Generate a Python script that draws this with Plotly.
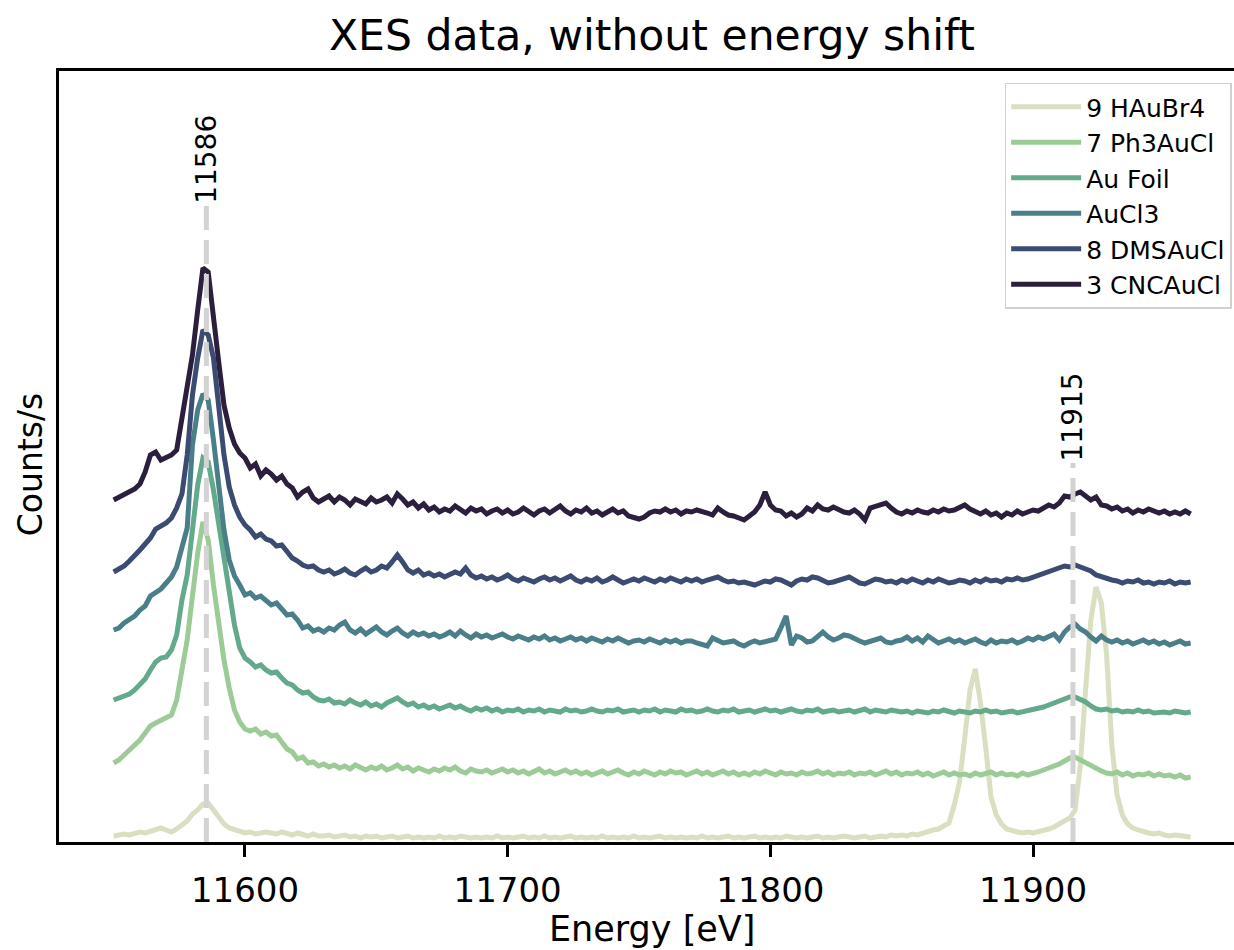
import plotly.graph_objects as go

energy = [
    11550, 11552, 11554, 11556, 11558, 11560, 11562, 11564, 11566, 11568,
    11570, 11572, 11574, 11576, 11578, 11580, 11582, 11584, 11586, 11588,
    11590, 11592, 11594, 11596, 11598, 11600, 11602, 11604, 11606, 11608,
    11610, 11612, 11614, 11616, 11618, 11620, 11622, 11624, 11626, 11628,
    11630, 11632, 11634, 11636, 11638, 11640, 11642, 11644, 11646, 11648,
    11650, 11652, 11654, 11656, 11658, 11660, 11662, 11664, 11666, 11668,
    11670, 11672, 11674, 11676, 11678, 11680, 11682, 11684, 11686, 11688,
    11690, 11692, 11694, 11696, 11698, 11700, 11702, 11704, 11706, 11708,
    11710, 11712, 11714, 11716, 11718, 11720, 11722, 11724, 11726, 11728,
    11730, 11732, 11734, 11736, 11738, 11740, 11742, 11744, 11746, 11748,
    11750, 11752, 11754, 11756, 11758, 11760, 11762, 11764, 11766, 11768,
    11770, 11772, 11774, 11776, 11778, 11780, 11782, 11784, 11786, 11788,
    11790, 11792, 11794, 11796, 11798, 11800, 11802, 11804, 11806, 11808,
    11810, 11812, 11814, 11816, 11818, 11820, 11822, 11824, 11826, 11828,
    11830, 11832, 11834, 11836, 11838, 11840, 11842, 11844, 11846, 11848,
    11850, 11852, 11854, 11856, 11858, 11860, 11862, 11864, 11866, 11868,
    11870, 11872, 11874, 11876, 11878, 11880, 11882, 11884, 11886, 11888,
    11890, 11892, 11894, 11896, 11898, 11900, 11902, 11904, 11906, 11908,
    11910, 11912, 11914, 11916, 11918, 11920, 11922, 11924, 11926, 11928,
    11930, 11932, 11934, 11936, 11938, 11940, 11942, 11944, 11946, 11948,
    11950, 11952, 11954, 11956, 11958, 11960,
]

hauBr4_9 = [
    6, 7, 8, 7, 9, 10, 9, 11, 13, 14,
    12, 10, 13, 17, 21, 28, 32, 38, 39, 32,
    24, 18, 14, 12, 10, 9, 10, 8, 9, 10,
    9, 8, 10, 8, 7, 9, 7, 6, 8, 6,
    6, 7, 5, 6, 7, 5, 6, 4, 6, 5,
    6, 4, 5, 6, 4, 5, 6, 4, 5, 4,
    5, 4, 6, 4, 5, 4, 6, 5, 4, 5,
    4, 5, 4, 6, 4, 5, 4, 5, 6, 4,
    5, 4, 6, 4, 5, 4, 5, 6, 4, 5,
    4, 5, 4, 6, 4, 5, 4, 5, 4, 6,
    4, 5, 4, 5, 6, 4, 5, 4, 5, 4,
    5, 4, 6, 4, 5, 4, 5, 6, 4, 5,
    4, 5, 6, 4, 5, 4, 5, 4, 6, 5,
    4, 5, 4, 5, 6, 4, 5, 4, 5, 6,
    5, 4, 5, 6, 4, 5, 6, 5, 7, 6,
    7, 6, 8, 7, 9, 10, 12, 13, 16, 19,
    37, 60, 104, 152, 173, 139, 94, 45, 27, 18,
    13, 11, 10, 9, 10, 9, 10, 11, 13, 15,
    18, 21, 24, 32, 77, 152, 222, 255, 239, 187,
    97, 47, 27, 18, 14, 12, 10, 9, 8, 9,
    7, 6, 7, 6, 5, 5,
]

ph3AuCl_7 = [
    79, 82, 87, 92, 96, 102, 109, 116, 119, 122,
    124, 127, 142, 170, 202, 246, 289, 320, 302, 257,
    215, 182, 154, 132, 120, 113, 111, 113, 108, 110,
    106, 107, 100, 93, 90, 83, 85, 79, 80, 76,
    78, 75, 77, 74, 76, 73, 77, 74, 72, 75,
    73, 76, 72, 74, 77, 73, 75, 71, 74, 72,
    70, 73, 71, 74, 72, 75, 71, 69, 73, 71,
    70, 72, 69, 71, 73, 70, 72, 69, 71, 68,
    70, 73, 69, 71, 68, 70, 72, 69, 71, 68,
    70, 67, 69, 71, 68, 70, 72, 69, 67, 70,
    68, 71, 69, 67, 70, 68, 71, 69, 70, 67,
    69, 71, 68, 70, 67, 69, 71, 68, 70, 67,
    69, 67, 70, 68, 71, 69, 67, 70, 68, 69,
    67, 70, 68, 69, 71, 68, 70, 67, 69, 68,
    70, 67, 69, 68, 70, 67, 69, 71, 68, 70,
    67, 69, 68, 70, 67, 69, 66, 68, 70, 67,
    69, 67, 68, 66, 69, 67, 68, 70, 67, 69,
    67, 68, 66, 69, 67, 68, 70, 72, 74, 75,
    78, 81, 84, 85, 82, 79, 77, 74, 71, 69,
    68, 70, 67, 69, 66, 68, 67, 69, 66, 68,
    66, 67, 65, 67, 64, 65,
]

au_foil = [
    142, 144, 146, 148, 152, 158, 163, 172, 180, 184,
    185, 192, 207, 242, 267, 312, 357, 384, 380, 352,
    317, 287, 247, 217, 194, 184, 180, 175, 177, 172,
    169, 170, 164, 159, 157, 152, 149, 150, 145, 142,
    141, 143, 139, 140, 138, 142, 139, 137, 140, 136,
    138, 135, 139, 142, 144, 140, 137, 139, 135, 137,
    134, 136, 133, 135, 137, 134, 136, 133, 131, 134,
    132, 134, 131, 133, 130, 132, 131, 133, 130, 132,
    131, 133, 130, 132, 131, 130, 133, 131, 132, 130,
    131, 133, 131, 130, 132, 131, 133, 130, 131, 132,
    130, 132, 131, 133, 130, 132, 131, 130, 133, 131,
    132, 130, 131, 133, 131, 130, 132, 131, 133, 130,
    131, 132, 130, 131, 133, 131, 132, 130, 131, 133,
    131, 130, 132, 131, 133, 130, 131, 132, 130, 131,
    132, 130, 131, 133, 130, 132, 131, 130, 132, 131,
    130, 131, 129, 131, 130, 129, 131, 130, 132, 130,
    129, 131, 130, 129, 131, 130, 132, 130, 131, 129,
    130, 131, 129, 130, 131, 132, 133, 135, 137, 139,
    142, 144, 145, 145, 143, 140, 136, 133, 132, 133,
    131, 132, 130, 131, 130, 132, 130, 131, 129, 130,
    130, 129, 131, 130, 129, 130,
]

auCl3 = [
    212, 214, 219, 222, 226, 232, 236, 246, 250, 253,
    259, 265, 275, 295, 314, 397, 432, 448, 442, 402,
    360, 312, 282, 266, 257, 247, 249, 244, 246, 241,
    237, 239, 232, 227, 228, 222, 214, 216, 211, 213,
    210, 214, 212, 217, 220, 212, 209, 213, 208, 212,
    215, 210, 207, 211, 214, 209, 206, 210, 207, 209,
    206, 208, 205, 207, 210, 206, 211, 207, 204, 208,
    205, 207, 204, 206, 208, 205, 203, 206, 204, 202,
    205, 203, 206, 202, 204, 201, 203, 205, 202, 204,
    201, 204, 202, 200, 203, 201, 204, 202, 199, 201,
    202, 200, 203, 201, 199, 202, 200, 202, 199, 201,
    201, 199, 197, 196, 204, 201, 199, 200, 201, 198,
    196, 199, 201, 199, 200, 201, 203, 214, 226, 197,
    206, 204, 200, 201, 206, 210, 205, 202, 204, 207,
    206, 203, 201, 199, 201, 202, 204, 200, 199, 201,
    202, 205, 201, 204, 200, 206, 202, 199, 201, 203,
    200, 202, 199, 201, 203, 200, 198, 202, 199, 201,
    200, 202, 199, 201, 204, 202, 205, 203, 206, 208,
    202, 210, 215, 218, 213, 210, 205, 201, 206, 202,
    200, 202, 199, 201, 198, 200, 202, 199, 201, 198,
    200, 197, 199, 201, 198, 199,
]

dmsAuCl_8 = [
    270, 273, 276, 281, 286, 292, 298, 304, 313, 316,
    319, 324, 334, 348, 387, 447, 484, 512, 507, 484,
    430, 387, 355, 337, 325, 317, 312, 305, 308, 303,
    301, 296, 297, 290, 284, 281, 277, 275, 276, 272,
    270, 272, 268, 270, 273, 269, 267, 271, 274, 270,
    272, 276, 274, 280, 287, 280, 272, 269, 272, 267,
    269, 266, 268, 265, 267, 270, 268, 274, 267, 264,
    266, 263, 265, 262, 264, 267, 263, 261, 264, 262,
    260, 263, 265, 262, 264, 261, 263, 266, 262, 260,
    263, 261, 264, 260, 262, 265, 262, 259, 261, 263,
    261, 264, 262, 260, 263, 261, 264, 262, 260, 263,
    261, 263, 260, 262, 264, 265, 262, 260, 261, 259,
    260, 258, 257, 259, 261, 260, 263, 262, 259, 257,
    261, 263, 262, 265, 264, 261, 259, 260, 262, 264,
    265, 262, 259, 258, 261, 263, 262, 260, 261, 259,
    262, 260, 263, 261, 259, 262, 260, 263, 261, 259,
    260, 262, 261, 259, 262, 260, 263, 261, 262, 260,
    263, 262, 264, 262, 263, 265, 266, 268, 270, 273,
    274, 276, 275, 277, 275, 273, 271, 267, 265, 263,
    262, 261, 259, 261, 260, 262, 259, 260, 258, 260,
    259, 261, 258, 260, 259, 260,
]

cncAuCl_3 = [
    342, 345, 347, 350, 353, 358, 370, 387, 390, 382,
    385, 387, 392, 424, 457, 487, 532, 574, 570, 520,
    480, 437, 414, 398, 389, 384, 374, 378, 366, 372,
    368, 362, 366, 358, 354, 345, 350, 353, 344, 340,
    343, 346, 340, 345, 342, 337, 343, 341, 338, 344,
    340, 342, 345, 339, 348, 343, 337, 340, 334, 338,
    332, 335, 330, 333, 331, 336, 332, 329, 334, 331,
    333, 328, 331, 333, 329, 332, 328, 330, 334, 330,
    327, 331, 333, 329, 332, 336, 331, 328, 332, 330,
    334, 329, 331, 327, 330, 333, 329, 331, 326, 324,
    323, 325, 329, 331, 330, 333, 330, 332, 328, 331,
    330, 332, 331, 329, 327, 334, 330, 327, 326, 324,
    322, 326, 330, 337, 350, 337, 332, 331, 326, 329,
    325, 328, 334, 331, 337, 333, 332, 335, 332, 330,
    329, 332, 328, 322, 334, 336, 338, 339, 334, 330,
    328, 331, 329, 332, 330, 329, 332, 330, 333, 331,
    332, 334, 337, 333, 331, 328, 331, 327, 329, 325,
    329, 327, 331, 328, 330, 332, 331, 334, 337, 335,
    339, 346, 345, 348, 350, 346, 342, 345, 337, 336,
    333, 335, 331, 333, 329, 332, 330, 333, 331, 329,
    331, 328, 330, 328, 331, 328,
]

series_names = ["9 HAuBr4", "7 Ph3AuCl", "Au Foil", "AuCl3", "8 DMSAuCl", "3 CNCAuCl"]
series_values = [hauBr4_9, ph3AuCl_7, au_foil, auCl3, dmsAuCl_8, cncAuCl_3]
series_colors = ["#d9dfc1", "#9dcb98", "#63a98b", "#4a7f89", "#3c4b72", "#2c1e3d"]

peak_energies = [11585.3, 11915.2]
peak_labels = ["11586", "11915"]
peak_line_tops = [636, 379]

x_ticks = [11600, 11700, 11800, 11900]

FONT = "DejaVu Sans"

fig = go.Figure()
for name, vals, col in zip(series_names, series_values, series_colors):
    fig.add_trace(go.Scatter(
        x=energy, y=vals, mode="lines", name=name,
        line=dict(color=col, width=5),
    ))

shapes = []
annotations = []
for e, lab, top in zip(peak_energies, peak_labels, peak_line_tops):
    shapes.append(dict(
        type="line", xref="x", yref="y", x0=e, x1=e, y0=0, y1=top,
        line=dict(color="#d3d3d3", width=5, dash="24px,10px"), layer="above",
    ))
    annotations.append(dict(
        x=e, y=top, xref="x", yref="y", text=lab, showarrow=False,
        textangle=-90, xanchor="center", yanchor="bottom",
        font=dict(family=FONT, size=28, color="black"),
    ))

annotations.append(dict(
    x=0.5047, y=1.0465, xref="paper", yref="paper", text="XES data, without energy shift",
    showarrow=False, xanchor="center", yanchor="middle",
    font=dict(family=FONT, size=42.5, color="black"),
))
annotations.append(dict(
    x=0.5047, y=-0.1125, xref="paper", yref="paper", text="Energy [eV]",
    showarrow=False, xanchor="center", yanchor="middle",
    font=dict(family=FONT, size=35, color="black"),
))
annotations.append(dict(
    x=-0.0247, y=0.49, xref="paper", yref="paper", text="Counts/s",
    showarrow=False, xanchor="center", yanchor="middle", textangle=-90,
    font=dict(family=FONT, size=33, color="black"),
))

fig.update_layout(
    width=1234, height=950, autosize=False,
    margin=dict(l=59, r=0, t=71, b=108),
    paper_bgcolor="white", plot_bgcolor="white",
    font=dict(family=FONT, color="black"),
    showlegend=True,
    legend=dict(
        x=0.998, y=0.985, xanchor="right", yanchor="top",
        bgcolor="white", bordercolor="#d0d0d0", borderwidth=1.5,
        font=dict(family=FONT, size=25, color="black"),
        traceorder="normal", itemwidth=70,
    ),
    xaxis=dict(
        range=[11529.2, 11976.5], showgrid=False, zeroline=False,
        showline=True, linecolor="black", linewidth=2.5, mirror=True,
        ticks="outside", ticklen=12, tickwidth=2.5, tickcolor="black",
        tickvals=x_ticks, ticktext=[str(t) for t in x_ticks],
        tickfont=dict(family=FONT, size=34, color="black"),
        ticklabelstandoff=4,
    ),
    yaxis=dict(
        range=[0, 771], showgrid=False, zeroline=False,
        showline=True, linecolor="black", linewidth=2.5,
        showticklabels=False, ticks="",
    ),
    shapes=shapes, annotations=annotations,
)

fig.write_html(
    "out.html",
    config={"displayModeBar": False},
    post_script="document.body.style.margin='0';document.body.style.overflow='hidden';",
)
